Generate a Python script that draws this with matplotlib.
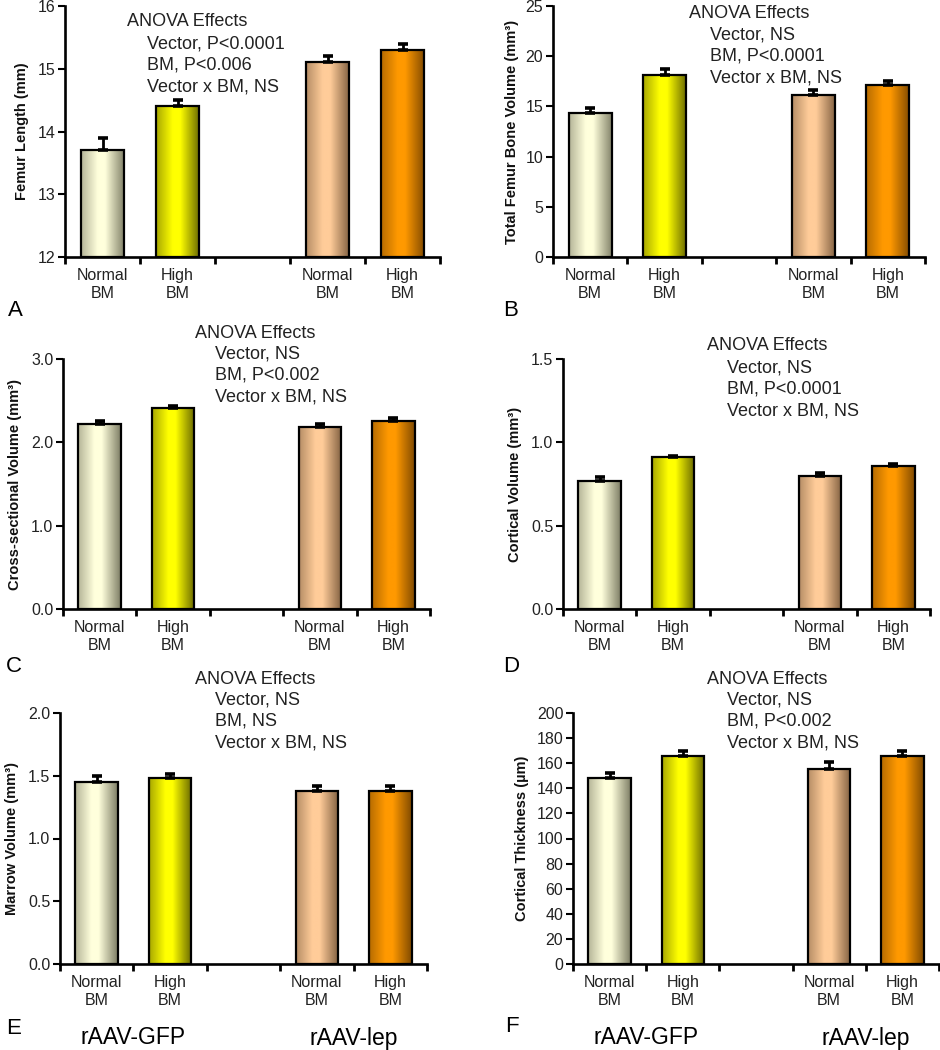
import numpy as np
import matplotlib
matplotlib.use("Agg")
import matplotlib.pyplot as plt
import matplotlib.colors as mcolors
from matplotlib.transforms import blended_transform_factory

plt.rcParams['font.family'] = ['Liberation Sans', 'DejaVu Sans']

# ---------------- data ----------------
groups = ["rAAV-GFP", "rAAV-lep"]
conditions = ["Normal\nBM", "High\nBM", "Normal\nBM", "High\nBM"]

femur_length = [13.7, 14.4, 15.1, 15.3]
femur_length_err = [0.2, 0.1, 0.1, 0.1]

bone_volume = [14.3, 18.1, 16.1, 17.1]
bone_volume_err = [0.5, 0.6, 0.5, 0.4]

cross_volume = [2.22, 2.41, 2.19, 2.26]
cross_volume_err = [0.04, 0.03, 0.03, 0.03]

cortical_volume = [0.77, 0.91, 0.80, 0.86]
cortical_volume_err = [0.025, 0.008, 0.015, 0.013]

marrow_volume = [1.45, 1.48, 1.38, 1.38]
marrow_volume_err = [0.05, 0.03, 0.04, 0.04]

cortical_thickness = [148, 166, 155, 166]
cortical_thickness_err = [4, 4, 6, 4]

ylabels = ["Femur Length (mm)", "Total Femur Bone Volume (mm³)",
           "Cross-sectional Volume (mm³)", "Cortical Volume (mm³)",
           "Marrow Volume (mm³)", "Cortical Thickness (µm)"]

anova_text = [
    ["Vector, P<0.0001", "BM, P<0.006", "Vector x BM, NS"],
    ["Vector, NS", "BM, P<0.0001", "Vector x BM, NS"],
    ["Vector, NS", "BM, P<0.002", "Vector x BM, NS"],
    ["Vector, NS", "BM, P<0.0001", "Vector x BM, NS"],
    ["Vector, NS", "BM, NS", "Vector x BM, NS"],
    ["Vector, NS", "BM, P<0.002", "Vector x BM, NS"],
]
panel_letters = ["A", "B", "C", "D", "E", "F"]

yticks = [
    [12, 13, 14, 15, 16],
    [0, 5, 10, 15, 20, 25],
    [0.0, 1.0, 2.0, 3.0],
    [0.0, 0.5, 1.0, 1.5],
    [0.0, 0.5, 1.0, 1.5, 2.0],
    list(range(0, 201, 20)),
]
ytick_fmt = ["{:.0f}", "{:.0f}", "{:.1f}", "{:.1f}", "{:.1f}", "{:.0f}"]

values = [femur_length, bone_volume, cross_volume, cortical_volume,
          marrow_volume, cortical_thickness]
errors = [femur_length_err, bone_volume_err, cross_volume_err,
          cortical_volume_err, marrow_volume_err, cortical_thickness_err]

light_cols = ['#FFFFDC', '#FFFF00', '#FFCC99', '#FF9900']
dark_cols = ['#77775F', '#606000', '#7A5A3C', '#7A4600']

bar_x = [0.5, 1.5, 3.5, 4.5]

# ---------------- layout (pixels) ----------------
W, H = 940, 1050
axes_px = [  # left, right, top, bottom
    (65, 440, 6, 257),
    (553, 925, 6, 257),
    (63, 430, 359, 609),
    (563, 930, 359, 609),
    (60, 427, 713, 964),
    (573, 939, 713, 964),
]
anova_px = [  # header x, header y, lines x, first line y
    (127, 22, 147, 44),
    (689, 13, 710, 35),
    (195, 333, 215, 354),
    (707, 346, 727, 368),
    (195, 679, 215, 700),
    (707, 679, 727, 700),
]
letter_px = [(8, 310), (503, 310), (6, 667), (503, 667), (6, 1028), (505, 1027)]
ylabel_x_px = [22, 512, 15, 515, 12, 522]

fig = plt.figure(figsize=(W / 100, H / 100), dpi=100)


def fx(x):
    return x / W


def fy(y):
    return 1 - y / H


def grad_image(light, dark):
    t = np.linspace(0, 1, 200)
    mix = np.interp(t, [0, 0.38, 0.55, 1], [0.55, 0.0, 0.0, 0.95])
    l = np.array(mcolors.to_rgb(light))
    d = np.array(mcolors.to_rgb(dark))
    cols = l[None, :] * (1 - mix[:, None]) + d[None, :] * mix[:, None]
    return cols[None, :, :]


for i in range(6):
    l, r, t, b = axes_px[i]
    ax = fig.add_axes([fx(l), fy(b), (r - l) / W, (b - t) / H])
    vals = values[i]
    errs = errors[i]
    ymin, ymax = yticks[i][0], yticks[i][-1]
    bars = ax.bar(bar_x, [v - ymin for v in vals], bottom=ymin, width=0.58,
                  facecolor='none', edgecolor='black', linewidth=1.6, zorder=3)
    for j, rect in enumerate(bars):
        x0, y0 = rect.get_x(), rect.get_y()
        w, h = rect.get_width(), rect.get_height()
        ax.imshow(grad_image(light_cols[j], dark_cols[j]),
                  extent=[x0, x0 + w, y0, y0 + h], aspect='auto',
                  interpolation='bilinear', zorder=2)
    ax.errorbar(bar_x, vals, yerr=[np.zeros(4), errs], fmt='none',
                ecolor='black', elinewidth=2.0, capsize=3.5, capthick=2.6,
                zorder=4)
    ax.set_xlim(0, 5)
    ax.set_ylim(ymin, ymax)
    ax.set_xticks([0, 1, 2, 3, 4, 5])
    ax.set_xticklabels([])
    ax.set_xticks(bar_x, minor=True)
    ax.set_xticklabels(conditions, minor=True, fontsize=11.5, linespacing=1.25,
                       color='#222222')
    ax.tick_params(axis='x', which='major', direction='out', length=5,
                   width=2, color='black')
    ax.tick_params(axis='x', which='minor', length=0, pad=8)
    ax.set_yticks(yticks[i])
    ax.set_yticklabels([ytick_fmt[i].format(v) for v in yticks[i]],
                       fontsize=11.5, color='#222222')
    ax.tick_params(axis='y', direction='out', length=5, width=1.5, pad=2)
    for s in ['top', 'right']:
        ax.spines[s].set_visible(False)
    for s in ['left', 'bottom']:
        ax.spines[s].set_linewidth(1.9)
    ax.patch.set_alpha(0)

    # y label
    fig.text(fx(ylabel_x_px[i]), fy((t + b) / 2), ylabels[i], rotation=90,
             ha='center', va='center', fontsize=10.5, fontweight='bold',
             color='#111111')

    # ANOVA annotation
    hx, hy, lx, ly = anova_px[i]
    fig.text(fx(hx), fy(hy), "ANOVA Effects", ha='left', va='center',
             fontsize=13, color='#222222')
    for k, line in enumerate(anova_text[i]):
        fig.text(fx(lx), fy(ly + k * 21.5), line, ha='left', va='center',
                 fontsize=13, color='#222222')

    # panel letter
    px, py = letter_px[i]
    fig.text(fx(px), fy(py), panel_letters[i], ha='left', va='center',
             fontsize=16)

    # group labels on bottom row
    if i >= 4:
        tr = blended_transform_factory(ax.transData, fig.transFigure)
        ax.text(1.0, fy(1038), groups[0], transform=tr, ha='center',
                va='center', fontsize=16.5, clip_on=False)
        ax.text(4.0, fy(1038), groups[1], transform=tr, ha='center',
                va='center', fontsize=16.5, clip_on=False)

fig.savefig("out.png", dpi=100, facecolor='white')
